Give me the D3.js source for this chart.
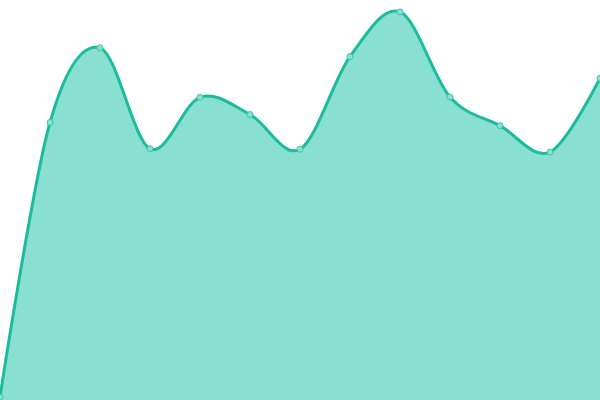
<!DOCTYPE html>
<html>
<head>
<meta charset="utf-8">
<script src="https://cdn.jsdelivr.net/npm/d3@7"></script>
<style>
  html, body { margin: 0; padding: 0; background: #fff; overflow: hidden; }
</style>
</head>
<body>
<script>
// area chart, smooth curve, full bleed
var svgWidth = 600;
var svgHeight = 400;

// data
var xIndex = [0, 1, 2, 3, 4, 5, 6, 7, 8, 9, 10, 11, 12];
var values = [0.5, 69.3, 88, 62.7, 75.6, 71.3, 62.6, 85.8, 97, 75.7, 68.5, 61.9, 80.4];

var svg = d3.select("body")
  .append("svg")
  .attr("width", svgWidth)
  .attr("height", svgHeight);

var x = d3.scaleLinear()
  .domain([0, xIndex.length - 1])
  .range([0, svgWidth]);

var y = d3.scaleLinear()
  .domain([0, 100])
  .range([399, 0]);

var data = xIndex.map(function(d, i) { return { i: d, v: values[i] }; });

var area = d3.area()
  .x(d => x(d.i))
  .y0(svgHeight)
  .y1(d => y(d.v))
  .curve(d3.curveCardinal);

var line = d3.line()
  .x(d => x(d.i))
  .y(d => y(d.v))
  .curve(d3.curveCardinal);

svg.append("path")
  .datum(data)
  .attr("d", area)
  .attr("fill", "#8ae0d0");

svg.append("path")
  .datum(data)
  .attr("d", line)
  .attr("fill", "none")
  .attr("stroke", "#1abc9c")
  .attr("stroke-width", 3);

svg.selectAll(".dot")
  .data(data)
  .enter()
  .append("circle")
    .attr("class", "dot")
    .attr("cx", d => x(d.i))
    .attr("cy", d => y(d.v))
    .attr("r", 3)
    .attr("fill", "#8ae0d0")
    .attr("stroke", "#3cc7a9")
    .attr("stroke-width", 1);
</script>
</body>
</html>
